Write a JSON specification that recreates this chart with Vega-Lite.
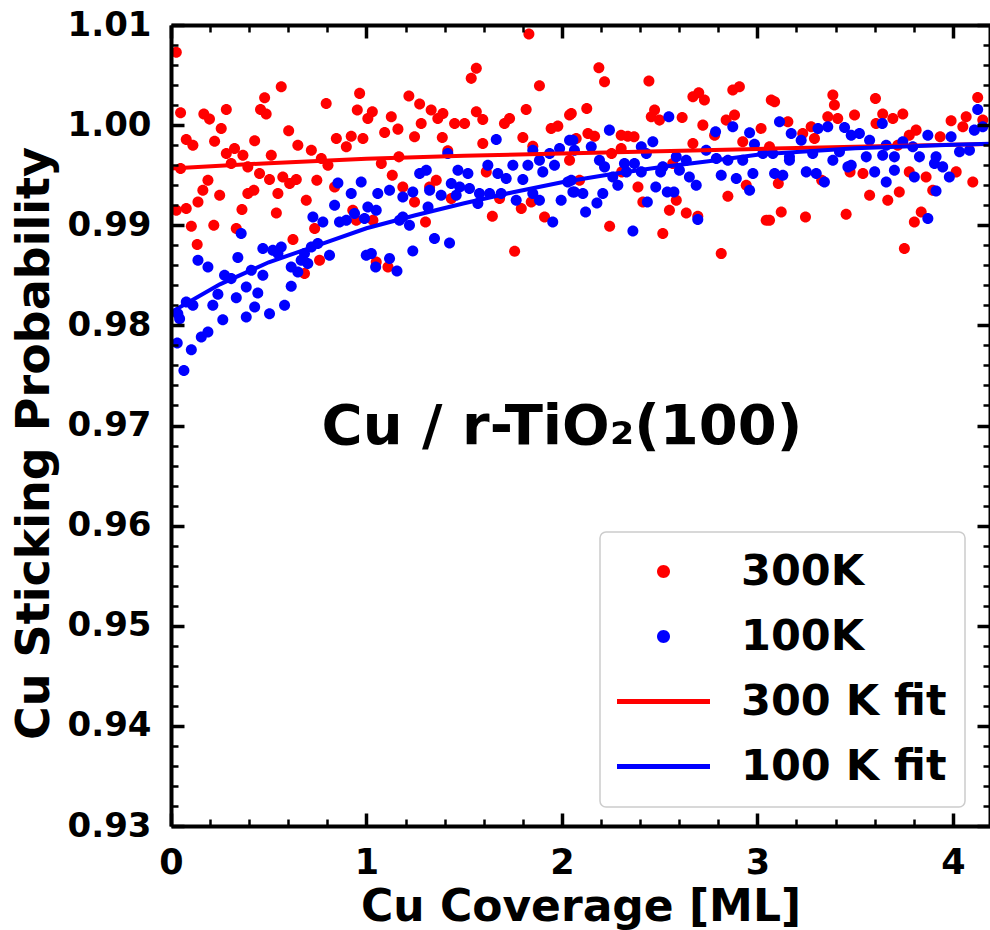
{
  "$schema": "https://vega.github.io/schema/vega-lite/v6.json",
  "width": 819,
  "height": 801,
  "autosize": {"type": "none"},
  "padding": {"left": 171, "top": 25, "right": 0, "bottom": 104},
  "background": "white",
  "config": {
    "view": {"stroke": null},
    "axis": {"grid": false, "tickColor": "black", "domainColor": "black", "labelColor": "black", "titleColor": "black"},
    "legend": {"strokeWidth": 1.5},
    "font": "DejaVu Sans"
  },
  "datasets": {
    "pts": [
      {"x":0.027,"y":1.00727,"series":"300K"},{"x":0.049,"y":1.00123,"series":"300K"},{"x":0.168,"y":1.0011,"series":"300K"},{"x":0.197,"y":1.0006,"series":"300K"},{"x":0.283,"y":1.00157,"series":"300K"},{"x":0.257,"y":0.99967,"series":"300K"},{"x":0.564,"y":1.00383,"series":"300K"},{"x":0.479,"y":1.00273,"series":"300K"},{"x":0.458,"y":1.00157,"series":"300K"},{"x":0.487,"y":1.0011,"series":"300K"},{"x":0.602,"y":0.99943,"series":"300K"},{"x":0.078,"y":0.99857,"series":"300K"},{"x":0.112,"y":0.998,"series":"300K"},{"x":0.223,"y":0.9984,"series":"300K"},{"x":0.428,"y":0.99843,"series":"300K"},{"x":0.649,"y":0.998,"series":"300K"},{"x":0.718,"y":0.9975,"series":"300K"},{"x":0.283,"y":0.99717,"series":"300K"},{"x":0.325,"y":0.99767,"series":"300K"},{"x":0.368,"y":0.997,"series":"300K"},{"x":0.513,"y":0.997,"series":"300K"},{"x":0.049,"y":0.99567,"series":"300K"},{"x":0.308,"y":0.99617,"series":"300K"},{"x":0.393,"y":0.99583,"series":"300K"},{"x":0.453,"y":0.99517,"series":"300K"},{"x":0.504,"y":0.99457,"series":"300K"},{"x":0.572,"y":0.99483,"series":"300K"},{"x":0.607,"y":0.99417,"series":"300K"},{"x":0.641,"y":0.99457,"series":"300K"},{"x":0.769,"y":0.99667,"series":"300K"},{"x":0.803,"y":0.996,"series":"300K"},{"x":0.746,"y":0.9945,"series":"300K"},{"x":0.189,"y":0.9945,"series":"300K"},{"x":0.163,"y":0.9935,"series":"300K"},{"x":0.138,"y":0.99233,"series":"300K"},{"x":0.249,"y":0.993,"series":"300K"},{"x":0.393,"y":0.99317,"series":"300K"},{"x":0.424,"y":0.9935,"series":"300K"},{"x":0.547,"y":0.99317,"series":"300K"},{"x":0.692,"y":0.9925,"series":"300K"},{"x":0.027,"y":0.9915,"series":"300K"},{"x":0.078,"y":0.99167,"series":"300K"},{"x":0.363,"y":0.99157,"series":"300K"},{"x":0.539,"y":0.99123,"series":"300K"},{"x":0.104,"y":0.9899,"series":"300K"},{"x":0.219,"y":0.99,"series":"300K"},{"x":0.334,"y":0.98967,"series":"300K"},{"x":0.134,"y":0.98807,"series":"300K"},{"x":0.624,"y":0.98857,"series":"300K"},{"x":0.735,"y":0.98967,"series":"300K"},{"x":0.76,"y":0.9865,"series":"300K"},{"x":0.683,"y":0.98517,"series":"300K"},{"x":0.794,"y":1.00217,"series":"300K"},{"x":0.846,"y":0.99867,"series":"300K"},{"x":0.897,"y":0.99783,"series":"300K"},{"x":0.922,"y":0.9989,"series":"300K"},{"x":0.982,"y":0.99867,"series":"300K"},{"x":0.965,"y":1.00317,"series":"300K"},{"x":0.953,"y":1.0015,"series":"300K"},{"x":1.007,"y":1.00067,"series":"300K"},{"x":0.837,"y":0.99383,"series":"300K"},{"x":0.93,"y":0.9915,"series":"300K"},{"x":0.948,"y":0.9905,"series":"300K"},
      {"x":1.831,"y":1.0091,"series":"300K"},{"x":1.562,"y":1.00567,"series":"300K"},{"x":1.536,"y":1.00467,"series":"300K"},{"x":1.885,"y":1.00393,"series":"300K"},{"x":1.217,"y":1.0029,"series":"300K"},{"x":1.272,"y":1.0021,"series":"300K"},{"x":1.03,"y":1.00133,"series":"300K"},{"x":1.127,"y":1.00083,"series":"300K"},{"x":1.161,"y":0.9996,"series":"300K"},{"x":1.093,"y":0.99927,"series":"300K"},{"x":1.331,"y":1.0015,"series":"300K"},{"x":1.365,"y":1.00067,"series":"300K"},{"x":1.391,"y":1.00117,"series":"300K"},{"x":1.28,"y":1.00017,"series":"300K"},{"x":1.246,"y":0.99883,"series":"300K"},{"x":1.451,"y":1.00017,"series":"300K"},{"x":1.502,"y":1.00017,"series":"300K"},{"x":1.562,"y":1.00133,"series":"300K"},{"x":1.595,"y":1.00057,"series":"300K"},{"x":1.388,"y":0.99877,"series":"300K"},{"x":1.416,"y":0.99743,"series":"300K"},{"x":1.595,"y":0.99817,"series":"300K"},{"x":1.706,"y":1.00017,"series":"300K"},{"x":1.732,"y":1.00067,"series":"300K"},{"x":1.8,"y":0.99877,"series":"300K"},{"x":1.817,"y":1.00157,"series":"300K"},{"x":1.945,"y":0.99967,"series":"300K"},{"x":1.979,"y":0.9999,"series":"300K"},{"x":2.039,"y":1.001,"series":"300K"},{"x":1.851,"y":0.9979,"series":"300K"},{"x":1.076,"y":0.99617,"series":"300K"},{"x":1.166,"y":0.99683,"series":"300K"},{"x":1.132,"y":0.995,"series":"300K"},{"x":1.186,"y":0.99383,"series":"300K"},{"x":1.246,"y":0.99233,"series":"300K"},{"x":1.357,"y":0.9945,"series":"300K"},{"x":1.323,"y":0.99383,"series":"300K"},{"x":1.434,"y":0.99267,"series":"300K"},{"x":1.681,"y":0.99267,"series":"300K"},{"x":1.644,"y":0.9909,"series":"300K"},{"x":1.792,"y":0.99167,"series":"300K"},{"x":1.843,"y":0.99233,"series":"300K"},{"x":1.911,"y":0.99083,"series":"300K"},{"x":1.302,"y":0.99033,"series":"300K"},{"x":1.033,"y":0.9905,"series":"300K"},{"x":1.758,"y":0.9874,"series":"300K"},{"x":1.05,"y":0.98633,"series":"300K"},{"x":1.11,"y":0.98583,"series":"300K"},{"x":1.613,"y":0.99533,"series":"300K"},{"x":2.039,"y":0.9965,"series":"300K"},
      {"x":2.189,"y":1.00573,"series":"300K"},{"x":2.218,"y":1.00433,"series":"300K"},{"x":2.445,"y":1.0044,"series":"300K"},{"x":2.048,"y":1.00117,"series":"300K"},{"x":2.127,"y":1.00167,"series":"300K"},{"x":2.474,"y":1.0015,"series":"300K"},{"x":2.457,"y":1.00083,"series":"300K"},{"x":2.499,"y":1.0005,"series":"300K"},{"x":2.615,"y":1.00077,"series":"300K"},{"x":2.67,"y":1.00283,"series":"300K"},{"x":2.7,"y":1.00323,"series":"300K"},{"x":2.729,"y":1.0025,"series":"300K"},{"x":2.874,"y":1.0035,"series":"300K"},{"x":2.908,"y":1.00383,"series":"300K"},{"x":3.071,"y":1.0025,"series":"300K"},{"x":2.721,"y":1.0,"series":"300K"},{"x":2.84,"y":1.0005,"series":"300K"},{"x":2.883,"y":1.001,"series":"300K"},{"x":2.781,"y":0.999,"series":"300K"},{"x":3.019,"y":0.99967,"series":"300K"},{"x":2.133,"y":0.99917,"series":"300K"},{"x":2.167,"y":0.9989,"series":"300K"},{"x":2.303,"y":0.999,"series":"300K"},{"x":2.337,"y":0.9989,"series":"300K"},{"x":2.369,"y":0.99883,"series":"300K"},{"x":2.073,"y":0.99867,"series":"300K"},{"x":2.303,"y":0.99767,"series":"300K"},{"x":2.254,"y":0.99717,"series":"300K"},{"x":2.67,"y":0.99817,"series":"300K"},{"x":2.925,"y":0.99833,"series":"300K"},{"x":2.09,"y":0.9945,"series":"300K"},{"x":2.389,"y":0.99383,"series":"300K"},{"x":2.414,"y":0.99233,"series":"300K"},{"x":2.55,"y":0.9915,"series":"300K"},{"x":2.585,"y":0.9925,"series":"300K"},{"x":2.636,"y":0.99123,"series":"300K"},{"x":2.695,"y":0.9909,"series":"300K"},{"x":2.849,"y":0.9929,"series":"300K"},{"x":2.943,"y":0.994,"series":"300K"},{"x":2.244,"y":0.9899,"series":"300K"},{"x":2.516,"y":0.98917,"series":"300K"},{"x":2.815,"y":0.98717,"series":"300K"},{"x":3.045,"y":0.9905,"series":"300K"},{"x":2.306,"y":0.99533,"series":"300K"},{"x":2.567,"y":0.99617,"series":"300K"},
      {"x":3.386,"y":1.003,"series":"300K"},{"x":3.394,"y":1.002,"series":"300K"},{"x":3.604,"y":1.00267,"series":"300K"},{"x":3.088,"y":1.00233,"series":"300K"},{"x":3.36,"y":1.00083,"series":"300K"},{"x":3.411,"y":1.00067,"series":"300K"},{"x":3.497,"y":1.001,"series":"300K"},{"x":3.641,"y":1.0011,"series":"300K"},{"x":3.693,"y":1.00067,"series":"300K"},{"x":3.744,"y":1.0011,"series":"300K"},{"x":4.127,"y":1.00277,"series":"300K"},{"x":3.991,"y":1.00043,"series":"300K"},{"x":4.068,"y":1.00083,"series":"300K"},{"x":4.153,"y":1.0005,"series":"300K"},{"x":3.156,"y":1.00033,"series":"300K"},{"x":3.275,"y":0.99983,"series":"300K"},{"x":3.232,"y":0.99917,"series":"300K"},{"x":3.292,"y":0.99867,"series":"300K"},{"x":3.607,"y":1.00017,"series":"300K"},{"x":3.812,"y":0.9995,"series":"300K"},{"x":3.777,"y":0.999,"series":"300K"},{"x":3.935,"y":0.99883,"series":"300K"},{"x":3.062,"y":0.99783,"series":"300K"},{"x":4.051,"y":0.99983,"series":"300K"},{"x":3.107,"y":0.99417,"series":"300K"},{"x":3.329,"y":0.9945,"series":"300K"},{"x":3.474,"y":0.99533,"series":"300K"},{"x":3.54,"y":0.99517,"series":"300K"},{"x":3.574,"y":0.993,"series":"300K"},{"x":3.667,"y":0.9925,"series":"300K"},{"x":3.726,"y":0.99333,"series":"300K"},{"x":3.777,"y":0.99533,"series":"300K"},{"x":3.863,"y":0.99483,"series":"300K"},{"x":3.897,"y":0.9935,"series":"300K"},{"x":4.017,"y":0.99533,"series":"300K"},{"x":4.102,"y":0.99433,"series":"300K"},{"x":3.062,"y":0.9905,"series":"300K"},{"x":3.122,"y":0.99133,"series":"300K"},{"x":3.246,"y":0.99083,"series":"300K"},{"x":3.454,"y":0.9911,"series":"300K"},{"x":3.838,"y":0.99133,"series":"300K"},{"x":3.803,"y":0.99033,"series":"300K"},{"x":3.752,"y":0.98767,"series":"300K"},{"x":3.718,"y":0.998,"series":"300K"},
      {"x":0.359,"y":0.98917,"series":"100K"},{"x":0.138,"y":0.9865,"series":"100K"},{"x":0.189,"y":0.98583,"series":"100K"},{"x":0.342,"y":0.98677,"series":"100K"},{"x":0.47,"y":0.98767,"series":"100K"},{"x":0.521,"y":0.9875,"series":"100K"},{"x":0.564,"y":0.98783,"series":"100K"},{"x":0.274,"y":0.985,"series":"100K"},{"x":0.308,"y":0.98467,"series":"100K"},{"x":0.411,"y":0.9855,"series":"100K"},{"x":0.47,"y":0.985,"series":"100K"},{"x":0.385,"y":0.98383,"series":"100K"},{"x":0.334,"y":0.98277,"series":"100K"},{"x":0.444,"y":0.98323,"series":"100K"},{"x":0.615,"y":0.9839,"series":"100K"},{"x":0.24,"y":0.9831,"series":"100K"},{"x":0.214,"y":0.982,"series":"100K"},{"x":0.078,"y":0.98233,"series":"100K"},{"x":0.112,"y":0.982,"series":"100K"},{"x":0.035,"y":0.98117,"series":"100K"},{"x":0.044,"y":0.98067,"series":"100K"},{"x":0.428,"y":0.98183,"series":"100K"},{"x":0.385,"y":0.98083,"series":"100K"},{"x":0.504,"y":0.98117,"series":"100K"},{"x":0.581,"y":0.982,"series":"100K"},{"x":0.265,"y":0.98057,"series":"100K"},{"x":0.189,"y":0.97933,"series":"100K"},{"x":0.155,"y":0.97883,"series":"100K"},{"x":0.104,"y":0.97757,"series":"100K"},{"x":0.032,"y":0.97823,"series":"100K"},{"x":0.066,"y":0.9755,"series":"100K"},{"x":0.615,"y":0.98583,"series":"100K"},{"x":0.649,"y":0.98533,"series":"100K"},{"x":0.683,"y":0.98717,"series":"100K"},{"x":0.718,"y":0.98783,"series":"100K"},{"x":0.751,"y":0.98817,"series":"100K"},{"x":0.666,"y":0.9865,"series":"100K"},{"x":0.7,"y":0.98617,"series":"100K"},{"x":0.811,"y":0.987,"series":"100K"},{"x":0.726,"y":0.99083,"series":"100K"},{"x":0.777,"y":0.99033,"series":"100K"},{"x":0.854,"y":0.99423,"series":"100K"},{"x":0.922,"y":0.99317,"series":"100K"},{"x":0.973,"y":0.99433,"series":"100K"},{"x":0.837,"y":0.992,"series":"100K"},{"x":0.862,"y":0.99033,"series":"100K"},{"x":0.897,"y":0.9905,"series":"100K"},{"x":0.939,"y":0.99117,"series":"100K"},{"x":0.999,"y":0.987,"series":"100K"},{"x":0.99,"y":0.99067,"series":"100K"},{"x":1.007,"y":0.99183,"series":"100K"},{"x":0.547,"y":0.98717,"series":"100K"},
      {"x":1.664,"y":0.99857,"series":"100K"},{"x":1.416,"y":0.99717,"series":"100K"},{"x":1.272,"y":0.99517,"series":"100K"},{"x":1.306,"y":0.9955,"series":"100K"},{"x":1.468,"y":0.9955,"series":"100K"},{"x":1.519,"y":0.99517,"series":"100K"},{"x":1.621,"y":0.996,"series":"100K"},{"x":1.672,"y":0.99517,"series":"100K"},{"x":1.715,"y":0.99467,"series":"100K"},{"x":1.749,"y":0.996,"series":"100K"},{"x":1.826,"y":0.996,"series":"100K"},{"x":1.851,"y":0.9975,"series":"100K"},{"x":1.885,"y":0.9965,"series":"100K"},{"x":1.937,"y":0.99717,"series":"100K"},{"x":1.988,"y":0.99767,"series":"100K"},{"x":2.039,"y":0.9985,"series":"100K"},{"x":1.962,"y":0.996,"series":"100K"},{"x":1.902,"y":0.99533,"series":"100K"},{"x":1.8,"y":0.99457,"series":"100K"},{"x":2.03,"y":0.99433,"series":"100K"},{"x":1.058,"y":0.99317,"series":"100K"},{"x":1.118,"y":0.9935,"series":"100K"},{"x":1.186,"y":0.99283,"series":"100K"},{"x":1.237,"y":0.99333,"series":"100K"},{"x":1.323,"y":0.9935,"series":"100K"},{"x":1.382,"y":0.993,"series":"100K"},{"x":1.434,"y":0.99417,"series":"100K"},{"x":1.477,"y":0.99383,"series":"100K"},{"x":1.527,"y":0.99367,"series":"100K"},{"x":1.578,"y":0.99317,"series":"100K"},{"x":1.63,"y":0.99317,"series":"100K"},{"x":1.689,"y":0.99317,"series":"100K"},{"x":1.766,"y":0.9925,"series":"100K"},{"x":1.851,"y":0.99317,"series":"100K"},{"x":1.885,"y":0.9925,"series":"100K"},{"x":1.996,"y":0.9925,"series":"100K"},{"x":2.056,"y":0.99333,"series":"100K"},{"x":1.57,"y":0.99217,"series":"100K"},{"x":1.459,"y":0.993,"series":"100K"},{"x":1.05,"y":0.9915,"series":"100K"},{"x":1.315,"y":0.99183,"series":"100K"},{"x":1.186,"y":0.99083,"series":"100K"},{"x":1.22,"y":0.99,"series":"100K"},{"x":1.169,"y":0.9905,"series":"100K"},{"x":1.348,"y":0.98867,"series":"100K"},{"x":1.425,"y":0.98823,"series":"100K"},{"x":1.237,"y":0.98743,"series":"100K"},{"x":1.953,"y":0.99033,"series":"100K"},{"x":1.118,"y":0.98667,"series":"100K"},{"x":1.047,"y":0.98583,"series":"100K"},{"x":1.156,"y":0.98543,"series":"100K"},{"x":1.025,"y":0.98717,"series":"100K"},
      {"x":2.547,"y":1.00083,"series":"100K"},{"x":2.243,"y":0.9995,"series":"100K"},{"x":2.465,"y":0.99833,"series":"100K"},{"x":2.056,"y":0.9985,"series":"100K"},{"x":2.786,"y":0.99933,"series":"100K"},{"x":2.874,"y":0.99983,"series":"100K"},{"x":2.96,"y":0.99923,"series":"100K"},{"x":2.985,"y":0.9981,"series":"100K"},{"x":2.064,"y":0.9975,"series":"100K"},{"x":2.15,"y":0.99783,"series":"100K"},{"x":2.192,"y":0.9965,"series":"100K"},{"x":2.406,"y":0.99783,"series":"100K"},{"x":2.432,"y":0.99717,"series":"100K"},{"x":2.585,"y":0.99683,"series":"100K"},{"x":2.636,"y":0.9965,"series":"100K"},{"x":2.738,"y":0.9975,"series":"100K"},{"x":2.79,"y":0.99667,"series":"100K"},{"x":2.849,"y":0.9965,"series":"100K"},{"x":2.925,"y":0.9965,"series":"100K"},{"x":3.028,"y":0.99717,"series":"100K"},{"x":2.218,"y":0.99583,"series":"100K"},{"x":2.32,"y":0.99617,"series":"100K"},{"x":2.371,"y":0.99617,"series":"100K"},{"x":2.33,"y":0.99533,"series":"100K"},{"x":2.26,"y":0.99483,"series":"100K"},{"x":2.286,"y":0.994,"series":"100K"},{"x":2.406,"y":0.99533,"series":"100K"},{"x":2.516,"y":0.99583,"series":"100K"},{"x":2.601,"y":0.9955,"series":"100K"},{"x":2.652,"y":0.99483,"series":"100K"},{"x":2.687,"y":0.994,"series":"100K"},{"x":2.815,"y":0.995,"series":"100K"},{"x":2.892,"y":0.99467,"series":"100K"},{"x":2.977,"y":0.99517,"series":"100K"},{"x":2.96,"y":0.9935,"series":"100K"},{"x":2.048,"y":0.9945,"series":"100K"},{"x":2.107,"y":0.99317,"series":"100K"},{"x":2.064,"y":0.99333,"series":"100K"},{"x":2.209,"y":0.99317,"series":"100K"},{"x":2.179,"y":0.99223,"series":"100K"},{"x":2.121,"y":0.99133,"series":"100K"},{"x":2.437,"y":0.99233,"series":"100K"},{"x":2.48,"y":0.99383,"series":"100K"},{"x":2.539,"y":0.99333,"series":"100K"},{"x":2.573,"y":0.99333,"series":"100K"},{"x":2.363,"y":0.98943,"series":"100K"},{"x":2.695,"y":0.99057,"series":"100K"},{"x":2.505,"y":0.99533,"series":"100K"},
      {"x":3.113,"y":1.00033,"series":"100K"},{"x":3.639,"y":1.00017,"series":"100K"},{"x":4.127,"y":1.00157,"series":"100K"},{"x":3.31,"y":0.99967,"series":"100K"},{"x":3.36,"y":0.99983,"series":"100K"},{"x":3.446,"y":0.99977,"series":"100K"},{"x":4.153,"y":0.99983,"series":"100K"},{"x":3.173,"y":0.99917,"series":"100K"},{"x":3.224,"y":0.9985,"series":"100K"},{"x":3.48,"y":0.999,"series":"100K"},{"x":3.522,"y":0.99917,"series":"100K"},{"x":3.574,"y":0.9985,"series":"100K"},{"x":3.872,"y":0.999,"series":"100K"},{"x":3.991,"y":0.99883,"series":"100K"},{"x":4.11,"y":0.9995,"series":"100K"},{"x":3.744,"y":0.99833,"series":"100K"},{"x":3.659,"y":0.998,"series":"100K"},{"x":3.079,"y":0.99717,"series":"100K"},{"x":3.164,"y":0.99683,"series":"100K"},{"x":3.283,"y":0.99717,"series":"100K"},{"x":3.386,"y":0.9965,"series":"100K"},{"x":3.42,"y":0.99733,"series":"100K"},{"x":3.48,"y":0.996,"series":"100K"},{"x":3.557,"y":0.99683,"series":"100K"},{"x":3.641,"y":0.997,"series":"100K"},{"x":3.701,"y":0.99683,"series":"100K"},{"x":3.795,"y":0.99783,"series":"100K"},{"x":3.829,"y":0.99683,"series":"100K"},{"x":3.914,"y":0.99683,"series":"100K"},{"x":4.034,"y":0.99733,"series":"100K"},{"x":4.085,"y":0.9975,"series":"100K"},{"x":3.088,"y":0.99517,"series":"100K"},{"x":3.13,"y":0.995,"series":"100K"},{"x":3.25,"y":0.99533,"series":"100K"},{"x":3.301,"y":0.99517,"series":"100K"},{"x":3.343,"y":0.99433,"series":"100K"},{"x":3.463,"y":0.99583,"series":"100K"},{"x":3.6,"y":0.99533,"series":"100K"},{"x":3.659,"y":0.99433,"series":"100K"},{"x":3.701,"y":0.9955,"series":"100K"},{"x":3.803,"y":0.99483,"series":"100K"},{"x":3.906,"y":0.99617,"series":"100K"},{"x":3.948,"y":0.99583,"series":"100K"},{"x":3.982,"y":0.99483,"series":"100K"},{"x":3.914,"y":0.99343,"series":"100K"},{"x":3.872,"y":0.99067,"series":"100K"},{"x":3.164,"y":0.9965,"series":"100K"}
    ],
    "fit300": [
      {"x":0,"y":0.99567},{"x":0.5,"y":0.9962},{"x":1.0,"y":0.99665},{"x":1.5,"y":0.99695},{"x":2.0,"y":0.99717},{"x":2.5,"y":0.9974},{"x":3.0,"y":0.99762},{"x":3.5,"y":0.99783},{"x":4.0,"y":0.99805},{"x":4.19,"y":0.99812}
    ],
    "fit100": [
      {"x":0,"y":0.9813},{"x":0.25,"y":0.9841},{"x":0.5,"y":0.9863},{"x":0.75,"y":0.988},{"x":1.0,"y":0.9897},{"x":1.25,"y":0.991},{"x":1.5,"y":0.9922},{"x":1.75,"y":0.9933},{"x":2.0,"y":0.9943},{"x":2.25,"y":0.9951},{"x":2.5,"y":0.9958},{"x":2.75,"y":0.9964},{"x":3.0,"y":0.99705},{"x":3.5,"y":0.9977},{"x":4.0,"y":0.99805},{"x":4.19,"y":0.99815}
    ],
    "label": [
      {"x":2.0,"y":0.9682,"text":"Cu / r-TiO₂(100)"}
    ]
  },
  "resolve": {"axis": {"x": "independent", "y": "independent"}},
  "layer": [
    {
      "data": {"name": "pts"},
      "mark": {"type": "point", "filled": true, "opacity": 1, "size": 1150, "strokeWidth": 0},
      "encoding": {
        "x": {"field": "x", "type": "quantitative", "scale": {"domain": [0, 4.19], "nice": false, "zero": false},
          "axis": {"orient": "bottom", "values": [0,1,2,3,4], "format": "d", "tickSize": -13, "tickWidth": 3.5, "domain": true, "domainWidth": 4, "labelFont": "DejaVu Sans", "labelFontWeight": "bold", "labelFontSize": 35, "labelPadding": 32, "labelFlush": false, "labelOverlap": false, "title": "Cu Coverage [ML]", "titleFont": "DejaVu Sans", "titleFontWeight": "bold", "titleFontSize": 44, "titleBaseline": "alphabetic", "titleX": 409.5, "titleY": 94, "zindex": 1}},
        "y": {"field": "y", "type": "quantitative", "scale": {"domain": [0.93, 1.01], "nice": false, "zero": false},
          "axis": {"orient": "left", "values": [0.93,0.94,0.95,0.96,0.97,0.98,0.99,1.0,1.01], "format": ".2f", "tickSize": -13, "tickWidth": 3.5, "domain": true, "domainWidth": 4, "labelFont": "DejaVu Sans", "labelFontWeight": "bold", "labelFontSize": 34, "labelPadding": 33, "labelFlush": false, "labelOverlap": false, "title": "Cu Sticking Probability", "titleFont": "DejaVu Sans", "titleFontWeight": "bold", "titleFontSize": 46, "titleAngle": -90, "titleAlign": "center", "titleBaseline": "middle", "titleX": -137, "titleY": 418, "zindex": 1}},
        "color": {"field": "series", "type": "nominal",
          "scale": {"domain": ["300K", "100K", "300 K fit", "100 K fit"], "range": ["#ff0000", "#0000ff", "#ff0000", "#0000ff"]},
          "legend": {"orient": "none", "legendX": 429, "legendY": 507, "title": null, "padding": 18, "fillColor": "white", "strokeColor": "#cccccc", "cornerRadius": 6, "labelFont": "DejaVu Sans", "labelFontWeight": "bold", "labelFontSize": 43, "labelColor": "black", "labelLimit": 0, "symbolSize": 1600, "symbolStrokeWidth": 0, "symbolOffset": 24, "labelOffset": 56, "rowPadding": 21}},
        "shape": {"field": "series", "type": "nominal",
          "scale": {"domain": ["300K", "100K", "300 K fit", "100 K fit"], "range": ["M-0.325,0A0.325,0.325 0 1,1 0.325,0A0.325,0.325 0 1,1 -0.325,0Z", "M-0.325,0A0.325,0.325 0 1,1 0.325,0A0.325,0.325 0 1,1 -0.325,0Z", "M-2.325,-0.125H2.325V0.125H-2.325Z", "M-2.325,-0.125H2.325V0.125H-2.325Z"]},
          "legend": {"orient": "none", "legendX": 429, "legendY": 507, "title": null}}
      }
    },
    {
      "data": {"name": "fit300"},
      "mark": {"type": "line", "color": "#ff0000", "strokeWidth": 4},
      "encoding": {
        "x": {"field": "x", "type": "quantitative", "scale": {"domain": [0, 4.19], "nice": false, "zero": false},
          "axis": {"orient": "bottom", "values": [0.2,0.4,0.6,0.8,1.2,1.4,1.6,1.8,2.2,2.4,2.6,2.8,3.2,3.4,3.6,3.8], "tickSize": -7, "tickWidth": 2.5, "labels": false, "domain": false, "title": null, "zindex": 1}},
        "y": {"field": "y", "type": "quantitative", "scale": {"domain": [0.93, 1.01], "nice": false, "zero": false},
          "axis": {"orient": "left", "values": [0.932,0.934,0.936,0.938,0.942,0.944,0.946,0.948,0.952,0.954,0.956,0.958,0.962,0.964,0.966,0.968,0.972,0.974,0.976,0.978,0.982,0.984,0.986,0.988,0.992,0.994,0.996,0.998,1.002,1.004,1.006,1.008], "tickSize": -7, "tickWidth": 2.5, "labels": false, "domain": false, "title": null, "zindex": 1}}
      }
    },
    {
      "data": {"name": "fit100"},
      "mark": {"type": "line", "color": "#0000ff", "strokeWidth": 4},
      "encoding": {
        "x": {"field": "x", "type": "quantitative", "scale": {"domain": [0, 4.19], "nice": false, "zero": false},
          "axis": {"orient": "top", "values": [0,1,2,3,4], "tickSize": -13, "tickWidth": 3.5, "labels": false, "domain": true, "domainWidth": 4, "title": null, "zindex": 1}},
        "y": {"field": "y", "type": "quantitative", "scale": {"domain": [0.93, 1.01], "nice": false, "zero": false},
          "axis": {"orient": "right", "values": [0.93,0.94,0.95,0.96,0.97,0.98,0.99,1.0,1.01], "tickSize": -13, "tickWidth": 3.5, "labels": false, "domain": true, "domainWidth": 4, "title": null, "zindex": 1}}
      }
    },
    {
      "data": {"name": "label"},
      "mark": {"type": "text", "font": "DejaVu Sans", "fontWeight": "bold", "fontSize": 56, "align": "center", "baseline": "alphabetic", "color": "black"},
      "encoding": {
        "x": {"field": "x", "type": "quantitative", "scale": {"domain": [0, 4.19], "nice": false, "zero": false},
          "axis": {"orient": "top", "values": [0.2,0.4,0.6,0.8,1.2,1.4,1.6,1.8,2.2,2.4,2.6,2.8,3.2,3.4,3.6,3.8], "tickSize": -7, "tickWidth": 2.5, "labels": false, "domain": false, "title": null, "zindex": 1}},
        "y": {"field": "y", "type": "quantitative", "scale": {"domain": [0.93, 1.01], "nice": false, "zero": false},
          "axis": {"orient": "right", "values": [0.932,0.934,0.936,0.938,0.942,0.944,0.946,0.948,0.952,0.954,0.956,0.958,0.962,0.964,0.966,0.968,0.972,0.974,0.976,0.978,0.982,0.984,0.986,0.988,0.992,0.994,0.996,0.998,1.002,1.004,1.006,1.008], "tickSize": -7, "tickWidth": 2.5, "labels": false, "domain": false, "title": null, "zindex": 1}},
        "text": {"field": "text", "type": "nominal"}
      }
    }
  ]
}
